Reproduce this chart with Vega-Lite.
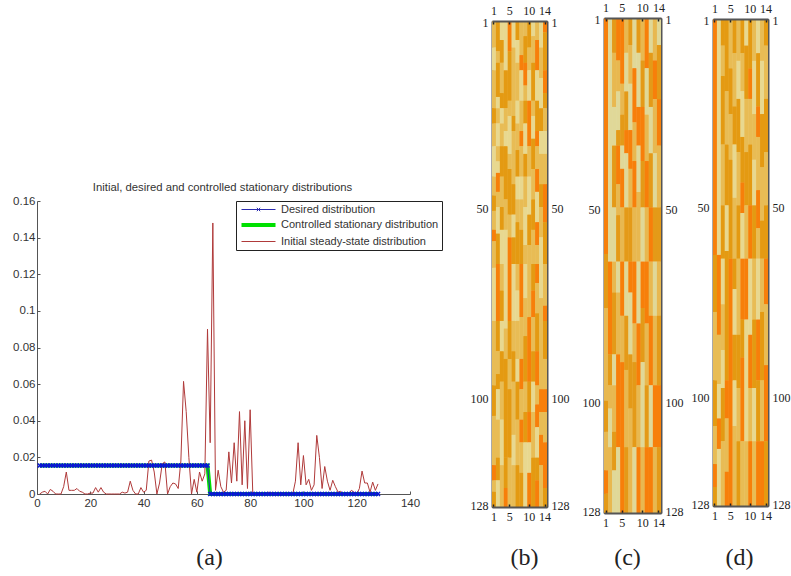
{"$schema":"https://vega.github.io/schema/vega-lite/v6.json","padding":{"left":12,"top":0,"right":0,"bottom":0},"background":"white","spacing":0,
"resolve":{"scale":{"color":"independent"},"legend":{"color":"independent"}},
"config":{"view":{"stroke":"#555","strokeWidth":1},"axis":{"grid":false,"labelFlush":false,"labelFont":"Liberation Serif","labelFontSize":12,"labelColor":"#222","labelAngle":0,"labelOverlap":false,"domainColor":"#555","domainWidth":2,"tickColor":"#222","tickWidth":1.5,"tickSize":-3,"labelPadding":7,"titleFont":"Liberation Serif","titleFontSize":24,"titleFontWeight":"normal","titleColor":"#222","titleBaseline":"alphabetic","titleAlign":"center"}},
"datasets":{
"line":[{"i":1,"d":0.0156,"c":0.0156,"r":0},{"i":2,"d":0.0156,"c":0.0156,"r":0.001},{"i":3,"d":0.0156,"c":0.0156,"r":0.0015},{"i":4,"d":0.0156,"c":0.0156,"r":0},{"i":5,"d":0.0156,"c":0.0156,"r":0.0025},{"i":6,"d":0.0156,"c":0.0156,"r":0.0015},{"i":7,"d":0.0156,"c":0.0156,"r":0},{"i":8,"d":0.0156,"c":0.0156,"r":0},{"i":9,"d":0.0156,"c":0.0156,"r":0},{"i":10,"d":0.0156,"c":0.0156,"r":0.004},{"i":11,"d":0.0156,"c":0.0156,"r":0.012},{"i":12,"d":0.0156,"c":0.0156,"r":0.002},{"i":13,"d":0.0156,"c":0.0156,"r":0.002},{"i":14,"d":0.0156,"c":0.0156,"r":0.002},{"i":15,"d":0.0156,"c":0.0156,"r":0.003},{"i":16,"d":0.0156,"c":0.0156,"r":0.0015},{"i":17,"d":0.0156,"c":0.0156,"r":0.001},{"i":18,"d":0.0156,"c":0.0156,"r":0},{"i":19,"d":0.0156,"c":0.0156,"r":0},{"i":20,"d":0.0156,"c":0.0156,"r":0.0005},{"i":21,"d":0.0156,"c":0.0156,"r":0.0005},{"i":22,"d":0.0156,"c":0.0156,"r":0.0035},{"i":23,"d":0.0156,"c":0.0156,"r":0.001},{"i":24,"d":0.0156,"c":0.0156,"r":0.0035},{"i":25,"d":0.0156,"c":0.0156,"r":0.001},{"i":26,"d":0.0156,"c":0.0156,"r":0},{"i":27,"d":0.0156,"c":0.0156,"r":0},{"i":28,"d":0.0156,"c":0.0156,"r":0},{"i":29,"d":0.0156,"c":0.0156,"r":0},{"i":30,"d":0.0156,"c":0.0156,"r":0},{"i":31,"d":0.0156,"c":0.0156,"r":0},{"i":32,"d":0.0156,"c":0.0156,"r":0.001},{"i":33,"d":0.0156,"c":0.0156,"r":0.0005},{"i":34,"d":0.0156,"c":0.0156,"r":0.001},{"i":35,"d":0.0156,"c":0.0156,"r":0.007},{"i":36,"d":0.0156,"c":0.0156,"r":0.002},{"i":37,"d":0.0156,"c":0.0156,"r":0},{"i":38,"d":0.0156,"c":0.0156,"r":0},{"i":39,"d":0.0156,"c":0.0156,"r":0.0035},{"i":40,"d":0.0156,"c":0.0156,"r":0.001},{"i":41,"d":0.0156,"c":0.0156,"r":0.002},{"i":42,"d":0.0156,"c":0.0156,"r":0.018},{"i":43,"d":0.0156,"c":0.0156,"r":0.0185},{"i":44,"d":0.0156,"c":0.0156,"r":0.012},{"i":45,"d":0.0156,"c":0.0156,"r":0},{"i":46,"d":0.0156,"c":0.0156,"r":0.006},{"i":47,"d":0.0156,"c":0.0156,"r":0.0165},{"i":48,"d":0.0156,"c":0.0156,"r":0.0175},{"i":49,"d":0.0156,"c":0.0156,"r":0},{"i":50,"d":0.0156,"c":0.0156,"r":0.004},{"i":51,"d":0.0156,"c":0.0156,"r":0.006},{"i":52,"d":0.0156,"c":0.0156,"r":0.0055},{"i":53,"d":0.0156,"c":0.0156,"r":0.003},{"i":54,"d":0.0156,"c":0.0156,"r":0.018},{"i":55,"d":0.0156,"c":0.0156,"r":0.0615},{"i":56,"d":0.0156,"c":0.0156,"r":0.045},{"i":57,"d":0.0156,"c":0.0156,"r":0.02},{"i":58,"d":0.0156,"c":0.0156,"r":0},{"i":59,"d":0.0156,"c":0.0156,"r":0.008},{"i":60,"d":0.0156,"c":0.0156,"r":0.001},{"i":61,"d":0.0156,"c":0.0156,"r":0.012},{"i":62,"d":0.0156,"c":0.0156,"r":0.007},{"i":63,"d":0.0156,"c":0.0156,"r":0.011},{"i":64,"d":0.0156,"c":0.0156,"r":0.09},{"i":65,"d":0,"c":0,"r":0.028},{"i":66,"d":0,"c":0,"r":0.148},{"i":67,"d":0,"c":0,"r":0.002},{"i":68,"d":0,"c":0,"r":0.013},{"i":69,"d":0,"c":0,"r":0.004},{"i":70,"d":0,"c":0,"r":0.001},{"i":71,"d":0,"c":0,"r":0.002},{"i":72,"d":0,"c":0,"r":0.023},{"i":73,"d":0,"c":0,"r":0.006},{"i":74,"d":0,"c":0,"r":0.028},{"i":75,"d":0,"c":0,"r":0.007},{"i":76,"d":0,"c":0,"r":0.045},{"i":77,"d":0,"c":0,"r":0.005},{"i":78,"d":0,"c":0,"r":0.04},{"i":79,"d":0,"c":0,"r":0.003},{"i":80,"d":0,"c":0,"r":0.046},{"i":81,"d":0,"c":0,"r":0},{"i":82,"d":0,"c":0,"r":0},{"i":83,"d":0,"c":0,"r":0},{"i":84,"d":0,"c":0,"r":0},{"i":85,"d":0,"c":0,"r":0},{"i":86,"d":0,"c":0,"r":0},{"i":87,"d":0,"c":0,"r":0.001},{"i":88,"d":0,"c":0,"r":0.0005},{"i":89,"d":0,"c":0,"r":0},{"i":90,"d":0,"c":0,"r":0},{"i":91,"d":0,"c":0,"r":0},{"i":92,"d":0,"c":0,"r":0},{"i":93,"d":0,"c":0,"r":0},{"i":94,"d":0,"c":0,"r":0},{"i":95,"d":0,"c":0,"r":0},{"i":96,"d":0,"c":0,"r":0},{"i":97,"d":0,"c":0,"r":0.007},{"i":98,"d":0,"c":0,"r":0.028},{"i":99,"d":0,"c":0,"r":0.005},{"i":100,"d":0,"c":0,"r":0.021},{"i":101,"d":0,"c":0,"r":0.005},{"i":102,"d":0,"c":0,"r":0.008},{"i":103,"d":0,"c":0,"r":0.002},{"i":104,"d":0,"c":0,"r":0.005},{"i":105,"d":0,"c":0,"r":0.032},{"i":106,"d":0,"c":0,"r":0.02},{"i":107,"d":0,"c":0,"r":0.003},{"i":108,"d":0,"c":0,"r":0.015},{"i":109,"d":0,"c":0,"r":0.007},{"i":110,"d":0,"c":0,"r":0.002},{"i":111,"d":0,"c":0,"r":0.0075},{"i":112,"d":0,"c":0,"r":0.004},{"i":113,"d":0,"c":0,"r":0.001},{"i":114,"d":0,"c":0,"r":0.0015},{"i":115,"d":0,"c":0,"r":0},{"i":116,"d":0,"c":0,"r":0},{"i":117,"d":0,"c":0,"r":0},{"i":118,"d":0,"c":0,"r":0.002},{"i":119,"d":0,"c":0,"r":0.001},{"i":120,"d":0,"c":0,"r":0},{"i":121,"d":0,"c":0,"r":0.003},{"i":122,"d":0,"c":0,"r":0.0125},{"i":123,"d":0,"c":0,"r":0.006},{"i":124,"d":0,"c":0,"r":0.006},{"i":125,"d":0,"c":0,"r":0.001},{"i":126,"d":0,"c":0,"r":0.0065},{"i":127,"d":0,"c":0,"r":0.002},{"i":128,"d":0,"c":0,"r":0.0055}],
"b":[{"c":1,"s":1,"e":8,"v":1},{"c":1,"s":8,"e":14,"v":0},{"c":1,"s":14,"e":24,"v":1},{"c":1,"s":24,"e":28,"v":2},{"c":1,"s":28,"e":34,"v":1},{"c":1,"s":34,"e":42,"v":0},{"c":1,"s":42,"e":47,"v":1},{"c":1,"s":47,"e":51,"v":2},{"c":1,"s":51,"e":56,"v":1},{"c":1,"s":56,"e":59,"v":3},{"c":1,"s":59,"e":66,"v":1},{"c":1,"s":66,"e":80,"v":0},{"c":1,"s":80,"e":97,"v":1},{"c":1,"s":97,"e":105,"v":2},{"c":1,"s":105,"e":118,"v":1},{"c":1,"s":118,"e":122,"v":3},{"c":1,"s":122,"e":125,"v":1},{"c":1,"s":125,"e":129,"v":2},
{"c":2,"s":1,"e":9,"v":2},{"c":2,"s":9,"e":12,"v":1},{"c":2,"s":12,"e":21,"v":2},{"c":2,"s":21,"e":24,"v":0},{"c":2,"s":24,"e":28,"v":1},{"c":2,"s":28,"e":34,"v":0},{"c":2,"s":34,"e":38,"v":1},{"c":2,"s":38,"e":41,"v":0},{"c":2,"s":41,"e":46,"v":3},{"c":2,"s":46,"e":50,"v":1},{"c":2,"s":50,"e":57,"v":0},{"c":2,"s":57,"e":65,"v":2},{"c":2,"s":65,"e":80,"v":3},{"c":2,"s":80,"e":88,"v":2},{"c":2,"s":88,"e":94,"v":1},{"c":2,"s":94,"e":98,"v":2},{"c":2,"s":98,"e":106,"v":0},{"c":2,"s":106,"e":116,"v":1},{"c":2,"s":116,"e":122,"v":2},{"c":2,"s":122,"e":129,"v":0},
{"c":3,"s":1,"e":6,"v":0},{"c":3,"s":6,"e":12,"v":2},{"c":3,"s":12,"e":20,"v":1},{"c":3,"s":20,"e":24,"v":2},{"c":3,"s":24,"e":28,"v":0},{"c":3,"s":28,"e":34,"v":1},{"c":3,"s":34,"e":42,"v":2},{"c":3,"s":42,"e":50,"v":1},{"c":3,"s":50,"e":56,"v":2},{"c":3,"s":56,"e":65,"v":0},{"c":3,"s":65,"e":72,"v":1},{"c":3,"s":72,"e":80,"v":2},{"c":3,"s":80,"e":88,"v":0},{"c":3,"s":88,"e":96,"v":2},{"c":3,"s":96,"e":106,"v":1},{"c":3,"s":106,"e":118,"v":0},{"c":3,"s":118,"e":129,"v":1},
{"c":4,"s":1,"e":14,"v":0},{"c":4,"s":14,"e":24,"v":2},{"c":4,"s":24,"e":30,"v":1},{"c":4,"s":30,"e":34,"v":0},{"c":4,"s":34,"e":48,"v":2},{"c":4,"s":48,"e":56,"v":1},{"c":4,"s":56,"e":82,"v":0},{"c":4,"s":82,"e":90,"v":1},{"c":4,"s":90,"e":116,"v":2},{"c":4,"s":116,"e":124,"v":2},{"c":4,"s":124,"e":129,"v":3},
{"c":5,"s":1,"e":9,"v":3},{"c":5,"s":9,"e":22,"v":2},{"c":5,"s":22,"e":26,"v":1},{"c":5,"s":26,"e":36,"v":0},{"c":5,"s":36,"e":40,"v":1},{"c":5,"s":40,"e":52,"v":2},{"c":5,"s":52,"e":58,"v":1},{"c":5,"s":58,"e":80,"v":3},{"c":5,"s":80,"e":90,"v":2},{"c":5,"s":90,"e":98,"v":1},{"c":5,"s":98,"e":116,"v":2},{"c":5,"s":116,"e":129,"v":1},
{"c":6,"s":1,"e":8,"v":0},{"c":6,"s":8,"e":26,"v":1},{"c":6,"s":26,"e":30,"v":2},{"c":6,"s":30,"e":44,"v":1},{"c":6,"s":44,"e":52,"v":2},{"c":6,"s":52,"e":58,"v":0},{"c":6,"s":58,"e":65,"v":2},{"c":6,"s":65,"e":80,"v":0},{"c":6,"s":80,"e":88,"v":1},{"c":6,"s":88,"e":96,"v":2},{"c":6,"s":96,"e":110,"v":1},{"c":6,"s":110,"e":118,"v":0},{"c":6,"s":118,"e":129,"v":1},
{"c":7,"s":1,"e":6,"v":2},{"c":7,"s":6,"e":12,"v":0},{"c":7,"s":12,"e":22,"v":1},{"c":7,"s":22,"e":28,"v":0},{"c":7,"s":28,"e":35,"v":1},{"c":7,"s":35,"e":42,"v":2},{"c":7,"s":42,"e":48,"v":0},{"c":7,"s":48,"e":54,"v":1},{"c":7,"s":54,"e":65,"v":2},{"c":7,"s":65,"e":72,"v":1},{"c":7,"s":72,"e":80,"v":0},{"c":7,"s":80,"e":90,"v":1},{"c":7,"s":90,"e":96,"v":0},{"c":7,"s":96,"e":106,"v":2},{"c":7,"s":106,"e":118,"v":1},{"c":7,"s":118,"e":129,"v":2},
{"c":8,"s":1,"e":10,"v":1},{"c":8,"s":10,"e":14,"v":3},{"c":8,"s":14,"e":22,"v":0},{"c":8,"s":22,"e":30,"v":1},{"c":8,"s":30,"e":34,"v":3},{"c":8,"s":34,"e":42,"v":1},{"c":8,"s":42,"e":48,"v":0},{"c":8,"s":48,"e":56,"v":1},{"c":8,"s":56,"e":65,"v":2},{"c":8,"s":65,"e":79,"v":3},{"c":8,"s":79,"e":90,"v":1},{"c":8,"s":90,"e":98,"v":3},{"c":8,"s":98,"e":106,"v":1},{"c":8,"s":106,"e":112,"v":3},{"c":8,"s":112,"e":120,"v":1},{"c":8,"s":120,"e":129,"v":2},
{"c":9,"s":1,"e":5,"v":1},{"c":9,"s":5,"e":12,"v":2},{"c":9,"s":12,"e":18,"v":3},{"c":9,"s":18,"e":22,"v":1},{"c":9,"s":22,"e":28,"v":2},{"c":9,"s":28,"e":36,"v":0},{"c":9,"s":36,"e":42,"v":2},{"c":9,"s":42,"e":50,"v":1},{"c":9,"s":50,"e":60,"v":0},{"c":9,"s":60,"e":65,"v":1},{"c":9,"s":65,"e":74,"v":0},{"c":9,"s":74,"e":84,"v":1},{"c":9,"s":84,"e":96,"v":2},{"c":9,"s":96,"e":104,"v":1},{"c":9,"s":104,"e":112,"v":2},{"c":9,"s":112,"e":129,"v":0},
{"c":10,"s":1,"e":8,"v":2},{"c":10,"s":8,"e":14,"v":1},{"c":10,"s":14,"e":22,"v":0},{"c":10,"s":22,"e":34,"v":3},{"c":10,"s":34,"e":42,"v":1},{"c":10,"s":42,"e":52,"v":0},{"c":10,"s":52,"e":60,"v":2},{"c":10,"s":60,"e":79,"v":1},{"c":10,"s":79,"e":96,"v":3},{"c":10,"s":96,"e":104,"v":2},{"c":10,"s":104,"e":112,"v":3},{"c":10,"s":112,"e":120,"v":0},{"c":10,"s":120,"e":129,"v":3},
{"c":11,"s":1,"e":5,"v":0},{"c":11,"s":5,"e":12,"v":1},{"c":11,"s":12,"e":22,"v":2},{"c":11,"s":22,"e":26,"v":1},{"c":11,"s":26,"e":32,"v":0},{"c":11,"s":32,"e":40,"v":2},{"c":11,"s":40,"e":48,"v":1},{"c":11,"s":48,"e":56,"v":2},{"c":11,"s":56,"e":65,"v":1},{"c":11,"s":65,"e":72,"v":2},{"c":11,"s":72,"e":79,"v":3},{"c":11,"s":79,"e":88,"v":1},{"c":11,"s":88,"e":96,"v":2},{"c":11,"s":96,"e":104,"v":0},{"c":11,"s":104,"e":116,"v":1},{"c":11,"s":116,"e":129,"v":2},
{"c":12,"s":1,"e":6,"v":1},{"c":12,"s":6,"e":14,"v":3},{"c":12,"s":14,"e":22,"v":0},{"c":12,"s":22,"e":30,"v":2},{"c":12,"s":30,"e":34,"v":3},{"c":12,"s":34,"e":40,"v":1},{"c":12,"s":40,"e":46,"v":3},{"c":12,"s":46,"e":54,"v":0},{"c":12,"s":54,"e":60,"v":3},{"c":12,"s":60,"e":65,"v":1},{"c":12,"s":65,"e":70,"v":3},{"c":12,"s":70,"e":78,"v":1},{"c":12,"s":78,"e":88,"v":2},{"c":12,"s":88,"e":97,"v":3},{"c":12,"s":97,"e":102,"v":1},{"c":12,"s":102,"e":108,"v":3},{"c":12,"s":108,"e":116,"v":0},{"c":12,"s":116,"e":122,"v":2},{"c":12,"s":122,"e":129,"v":3},
{"c":13,"s":1,"e":8,"v":0},{"c":13,"s":8,"e":16,"v":1},{"c":13,"s":16,"e":24,"v":0},{"c":13,"s":24,"e":30,"v":2},{"c":13,"s":30,"e":36,"v":0},{"c":13,"s":36,"e":44,"v":1},{"c":13,"s":44,"e":50,"v":2},{"c":13,"s":50,"e":58,"v":1},{"c":13,"s":58,"e":74,"v":0},{"c":13,"s":74,"e":98,"v":1},{"c":13,"s":98,"e":104,"v":3},{"c":13,"s":104,"e":110,"v":1},{"c":13,"s":110,"e":118,"v":3},{"c":13,"s":118,"e":129,"v":1},
{"c":14,"s":1,"e":4,"v":3},{"c":14,"s":4,"e":14,"v":2},{"c":14,"s":14,"e":20,"v":3},{"c":14,"s":20,"e":24,"v":2},{"c":14,"s":24,"e":30,"v":1},{"c":14,"s":30,"e":36,"v":0},{"c":14,"s":36,"e":44,"v":1},{"c":14,"s":44,"e":54,"v":3},{"c":14,"s":54,"e":65,"v":2},{"c":14,"s":65,"e":76,"v":1},{"c":14,"s":76,"e":80,"v":3},{"c":14,"s":80,"e":90,"v":2},{"c":14,"s":90,"e":98,"v":1},{"c":14,"s":98,"e":104,"v":3},{"c":14,"s":104,"e":112,"v":1},{"c":14,"s":112,"e":124,"v":3},{"c":14,"s":124,"e":129,"v":2}],
"cc":[{"c":1,"s":1,"e":62,"v":3},{"c":1,"s":62,"e":76,"v":2},{"c":1,"s":76,"e":100,"v":1},{"c":1,"s":100,"e":108,"v":2},{"c":1,"s":108,"e":118,"v":1},{"c":1,"s":118,"e":124,"v":3},{"c":1,"s":124,"e":129,"v":2},
{"c":2,"s":1,"e":64,"v":0},{"c":2,"s":64,"e":88,"v":3},{"c":2,"s":88,"e":96,"v":2},{"c":2,"s":96,"e":102,"v":1},{"c":2,"s":102,"e":112,"v":0},{"c":2,"s":112,"e":129,"v":1},
{"c":3,"s":1,"e":10,"v":2},{"c":3,"s":10,"e":24,"v":1},{"c":3,"s":24,"e":34,"v":0},{"c":3,"s":34,"e":50,"v":2},{"c":3,"s":50,"e":64,"v":0},{"c":3,"s":64,"e":72,"v":1},{"c":3,"s":72,"e":88,"v":2},{"c":3,"s":88,"e":96,"v":0},{"c":3,"s":96,"e":108,"v":1},{"c":3,"s":108,"e":118,"v":2},{"c":3,"s":118,"e":129,"v":0},
{"c":4,"s":1,"e":12,"v":3},{"c":4,"s":12,"e":20,"v":1},{"c":4,"s":20,"e":30,"v":0},{"c":4,"s":30,"e":34,"v":2},{"c":4,"s":34,"e":44,"v":3},{"c":4,"s":44,"e":52,"v":1},{"c":4,"s":52,"e":64,"v":2},{"c":4,"s":64,"e":72,"v":0},{"c":4,"s":72,"e":88,"v":1},{"c":4,"s":88,"e":112,"v":3},{"c":4,"s":112,"e":129,"v":0},
{"c":5,"s":1,"e":18,"v":3},{"c":5,"s":18,"e":26,"v":1},{"c":5,"s":26,"e":34,"v":2},{"c":5,"s":34,"e":40,"v":0},{"c":5,"s":40,"e":50,"v":3},{"c":5,"s":50,"e":64,"v":1},{"c":5,"s":64,"e":78,"v":3},{"c":5,"s":78,"e":90,"v":1},{"c":5,"s":90,"e":129,"v":3},
{"c":6,"s":1,"e":10,"v":1},{"c":6,"s":10,"e":20,"v":0},{"c":6,"s":20,"e":30,"v":2},{"c":6,"s":30,"e":36,"v":3},{"c":6,"s":36,"e":50,"v":0},{"c":6,"s":50,"e":64,"v":2},{"c":6,"s":64,"e":78,"v":0},{"c":6,"s":78,"e":92,"v":2},{"c":6,"s":92,"e":112,"v":1},{"c":6,"s":112,"e":129,"v":2},
{"c":7,"s":1,"e":8,"v":2},{"c":7,"s":8,"e":18,"v":1},{"c":7,"s":18,"e":30,"v":0},{"c":7,"s":30,"e":40,"v":3},{"c":7,"s":40,"e":50,"v":1},{"c":7,"s":50,"e":64,"v":2},{"c":7,"s":64,"e":72,"v":3},{"c":7,"s":72,"e":88,"v":0},{"c":7,"s":88,"e":102,"v":2},{"c":7,"s":102,"e":129,"v":1},
{"c":8,"s":1,"e":14,"v":0},{"c":8,"s":14,"e":28,"v":3},{"c":8,"s":28,"e":38,"v":1},{"c":8,"s":38,"e":50,"v":3},{"c":8,"s":50,"e":64,"v":1},{"c":8,"s":64,"e":80,"v":3},{"c":8,"s":80,"e":90,"v":1},{"c":8,"s":90,"e":112,"v":2},{"c":8,"s":112,"e":129,"v":0},
{"c":9,"s":1,"e":10,"v":2},{"c":9,"s":10,"e":24,"v":0},{"c":9,"s":24,"e":34,"v":3},{"c":9,"s":34,"e":46,"v":0},{"c":9,"s":46,"e":64,"v":1},{"c":9,"s":64,"e":80,"v":0},{"c":9,"s":80,"e":96,"v":3},{"c":9,"s":96,"e":112,"v":1},{"c":9,"s":112,"e":129,"v":3},
{"c":10,"s":1,"e":12,"v":1},{"c":10,"s":12,"e":24,"v":2},{"c":10,"s":24,"e":38,"v":3},{"c":10,"s":38,"e":50,"v":2},{"c":10,"s":50,"e":64,"v":0},{"c":10,"s":64,"e":76,"v":3},{"c":10,"s":76,"e":90,"v":2},{"c":10,"s":90,"e":112,"v":0},{"c":10,"s":112,"e":129,"v":1},
{"c":11,"s":1,"e":14,"v":3},{"c":11,"s":14,"e":26,"v":0},{"c":11,"s":26,"e":38,"v":1},{"c":11,"s":38,"e":50,"v":3},{"c":11,"s":50,"e":64,"v":1},{"c":11,"s":64,"e":80,"v":3},{"c":11,"s":80,"e":96,"v":1},{"c":11,"s":96,"e":112,"v":2},{"c":11,"s":112,"e":129,"v":3},
{"c":12,"s":1,"e":10,"v":0},{"c":12,"s":10,"e":24,"v":2},{"c":12,"s":24,"e":36,"v":0},{"c":12,"s":36,"e":50,"v":2},{"c":12,"s":50,"e":64,"v":3},{"c":12,"s":64,"e":78,"v":1},{"c":12,"s":78,"e":96,"v":3},{"c":12,"s":96,"e":112,"v":0},{"c":12,"s":112,"e":129,"v":3},
{"c":13,"s":1,"e":12,"v":1},{"c":13,"s":12,"e":22,"v":3},{"c":13,"s":22,"e":36,"v":1},{"c":13,"s":36,"e":50,"v":0},{"c":13,"s":50,"e":64,"v":2},{"c":13,"s":64,"e":78,"v":0},{"c":13,"s":78,"e":96,"v":1},{"c":13,"s":96,"e":112,"v":3},{"c":13,"s":112,"e":129,"v":1},
{"c":14,"s":1,"e":8,"v":0},{"c":14,"s":8,"e":22,"v":2},{"c":14,"s":22,"e":34,"v":3},{"c":14,"s":34,"e":50,"v":1},{"c":14,"s":50,"e":64,"v":2},{"c":14,"s":64,"e":78,"v":1},{"c":14,"s":78,"e":96,"v":2},{"c":14,"s":96,"e":112,"v":3},{"c":14,"s":112,"e":129,"v":2}],
"dd":[{"c":1,"s":1,"e":63,"v":3},{"c":1,"s":63,"e":78,"v":2},{"c":1,"s":78,"e":96,"v":1},{"c":1,"s":96,"e":108,"v":2},{"c":1,"s":108,"e":118,"v":1},{"c":1,"s":118,"e":124,"v":3},{"c":1,"s":124,"e":129,"v":2},
{"c":2,"s":1,"e":63,"v":0},{"c":2,"s":63,"e":84,"v":3},{"c":2,"s":84,"e":97,"v":1},{"c":2,"s":97,"e":106,"v":0},{"c":2,"s":106,"e":114,"v":3},{"c":2,"s":114,"e":129,"v":0},
{"c":3,"s":1,"e":8,"v":2},{"c":3,"s":8,"e":16,"v":1},{"c":3,"s":16,"e":34,"v":2},{"c":3,"s":34,"e":50,"v":1},{"c":3,"s":50,"e":64,"v":2},{"c":3,"s":64,"e":76,"v":0},{"c":3,"s":76,"e":88,"v":1},{"c":3,"s":88,"e":98,"v":0},{"c":3,"s":98,"e":112,"v":2},{"c":3,"s":112,"e":129,"v":1},
{"c":4,"s":1,"e":20,"v":2},{"c":4,"s":20,"e":34,"v":1},{"c":4,"s":34,"e":50,"v":2},{"c":4,"s":50,"e":62,"v":0},{"c":4,"s":62,"e":96,"v":2},{"c":4,"s":96,"e":106,"v":3},{"c":4,"s":106,"e":120,"v":1},{"c":4,"s":120,"e":129,"v":3},
{"c":5,"s":1,"e":14,"v":1},{"c":5,"s":14,"e":26,"v":2},{"c":5,"s":26,"e":38,"v":1},{"c":5,"s":38,"e":64,"v":2},{"c":5,"s":64,"e":129,"v":3},
{"c":6,"s":1,"e":10,"v":2},{"c":6,"s":10,"e":24,"v":1},{"c":6,"s":24,"e":34,"v":2},{"c":6,"s":34,"e":48,"v":0},{"c":6,"s":48,"e":64,"v":1},{"c":6,"s":64,"e":72,"v":2},{"c":6,"s":72,"e":84,"v":0},{"c":6,"s":84,"e":96,"v":2},{"c":6,"s":96,"e":108,"v":0},{"c":6,"s":108,"e":129,"v":1},
{"c":7,"s":1,"e":12,"v":1},{"c":7,"s":12,"e":22,"v":0},{"c":7,"s":22,"e":36,"v":2},{"c":7,"s":36,"e":50,"v":1},{"c":7,"s":50,"e":64,"v":2},{"c":7,"s":64,"e":84,"v":1},{"c":7,"s":84,"e":98,"v":2},{"c":7,"s":98,"e":112,"v":1},{"c":7,"s":112,"e":129,"v":2},
{"c":8,"s":1,"e":10,"v":2},{"c":8,"s":10,"e":20,"v":1},{"c":8,"s":20,"e":32,"v":0},{"c":8,"s":32,"e":44,"v":2},{"c":8,"s":44,"e":52,"v":3},{"c":8,"s":52,"e":64,"v":0},{"c":8,"s":64,"e":80,"v":3},{"c":8,"s":80,"e":90,"v":2},{"c":8,"s":90,"e":112,"v":3},{"c":8,"s":112,"e":129,"v":1},
{"c":9,"s":1,"e":8,"v":0},{"c":9,"s":8,"e":22,"v":2},{"c":9,"s":22,"e":36,"v":1},{"c":9,"s":36,"e":50,"v":2},{"c":9,"s":50,"e":64,"v":1},{"c":9,"s":64,"e":80,"v":3},{"c":9,"s":80,"e":112,"v":0},{"c":9,"s":112,"e":129,"v":1},
{"c":10,"s":1,"e":14,"v":2},{"c":10,"s":14,"e":22,"v":3},{"c":10,"s":22,"e":34,"v":1},{"c":10,"s":34,"e":50,"v":2},{"c":10,"s":50,"e":64,"v":3},{"c":10,"s":64,"e":84,"v":0},{"c":10,"s":84,"e":98,"v":3},{"c":10,"s":98,"e":112,"v":1},{"c":10,"s":112,"e":129,"v":3},
{"c":11,"s":1,"e":12,"v":1},{"c":11,"s":12,"e":26,"v":0},{"c":11,"s":26,"e":38,"v":1},{"c":11,"s":38,"e":50,"v":0},{"c":11,"s":50,"e":64,"v":2},{"c":11,"s":64,"e":80,"v":1},{"c":11,"s":80,"e":98,"v":2},{"c":11,"s":98,"e":112,"v":0},{"c":11,"s":112,"e":129,"v":1},
{"c":12,"s":1,"e":10,"v":0},{"c":12,"s":10,"e":24,"v":2},{"c":12,"s":24,"e":32,"v":3},{"c":12,"s":32,"e":46,"v":1},{"c":12,"s":46,"e":56,"v":3},{"c":12,"s":56,"e":64,"v":1},{"c":12,"s":64,"e":80,"v":0},{"c":12,"s":80,"e":96,"v":3},{"c":12,"s":96,"e":112,"v":2},{"c":12,"s":112,"e":129,"v":3},
{"c":13,"s":1,"e":12,"v":1},{"c":13,"s":12,"e":26,"v":0},{"c":13,"s":26,"e":40,"v":2},{"c":13,"s":40,"e":54,"v":1},{"c":13,"s":54,"e":64,"v":2},{"c":13,"s":64,"e":78,"v":1},{"c":13,"s":78,"e":96,"v":2},{"c":13,"s":96,"e":112,"v":1},{"c":13,"s":112,"e":129,"v":3},
{"c":14,"s":1,"e":8,"v":2},{"c":14,"s":8,"e":22,"v":1},{"c":14,"s":22,"e":36,"v":2},{"c":14,"s":36,"e":50,"v":1},{"c":14,"s":50,"e":64,"v":2},{"c":14,"s":64,"e":76,"v":3},{"c":14,"s":76,"e":92,"v":1},{"c":14,"s":92,"e":112,"v":3},{"c":14,"s":112,"e":129,"v":2}]},
"hconcat":[
{"vconcat":[
{"width":373,"height":200,"view":{"stroke":null},"data":{"values":[{}]},"mark":{"type":"point","opacity":0},"encoding":{}},
{"width":373,"height":293,"data":{"name":"line"},"view":{"stroke":null},
"title":{"text":"Initial, desired and controlled stationary distributions","font":"Liberation Sans","fontSize":11.3,"fontWeight":"normal","color":"#333","offset":2,"dx":-1},
"encoding":{"x":{"field":"i","type":"quantitative","scale":{"domain":[0,140],"nice":false},"axis":{"values":[0,20,40,60,80,100,120,140],"labelFont":"Liberation Sans","labelFontSize":11.5,"labelColor":"#333","labelPadding":6,"domainWidth":1,"tickWidth":1,"tickColor":"#555","title":"(a)","titleX":172,"titleY":70}}},
"layer":[
{"mark":{"type":"line","strokeWidth":4},"encoding":{"y":{"field":"c","type":"quantitative","scale":{"domain":[0,0.16],"nice":false},"axis":{"values":[0,0.02,0.04,0.06,0.08,0.1,0.12,0.14,0.16],"format":"~g","labelOverlap":false,"labelFont":"Liberation Sans","labelFontSize":11.5,"labelColor":"#333","labelPadding":5,"domainWidth":1,"tickWidth":1,"tickColor":"#555","title":null}},
"color":{"datum":"Controlled stationary distribution","scale":{"domain":["Desired distribution","Controlled stationary distribution","Initial steady-state distribution"],"range":["#2A2AB0","#00E000","#B03A3A"]},"legend":{"title":null,"orient":"none","legendX":199,"legendY":200,"strokeColor":"#222","fillColor":"#fff","padding":3,"labelFont":"Liberation Sans","labelFontSize":11,"labelColor":"#333","symbolType":"stroke","symbolSize":1156,"symbolOffset":14,"rowPadding":1.5,"columnPadding":2,"labelOffset":17,"encode":{"symbols":{"update":{"shape":{"signal":"datum.value==='Desired distribution'?'M-1,0H1M-.1,-.1L.1,.1M-.1,.1L.1,-.1':'M-1,0H1'"},"strokeWidth":{"signal":"datum.value==='Controlled stationary distribution'?4:1"}}}}}}}},
{"mark":{"type":"line","strokeWidth":1},"encoding":{"y":{"field":"r","type":"quantitative","axis":{"values":[0,0.02,0.04,0.06,0.08,0.1,0.12,0.14,0.16],"format":"~g","labelOverlap":false,"labelFont":"Liberation Sans","labelFontSize":11.5,"labelColor":"#333","labelPadding":5,"domainWidth":1,"tickWidth":1,"tickColor":"#555","title":null}},"color":{"datum":"Initial steady-state distribution"}}},
{"mark":{"type":"line","strokeWidth":1},"encoding":{"y":{"field":"d","type":"quantitative","axis":{"values":[0,0.02,0.04,0.06,0.08,0.1,0.12,0.14,0.16],"format":"~g","labelOverlap":false,"labelFont":"Liberation Sans","labelFontSize":11.5,"labelColor":"#333","labelPadding":5,"domainWidth":1,"tickWidth":1,"tickColor":"#555","title":null}},"color":{"datum":"Desired distribution"}}},
{"mark":{"type":"point","shape":"M-1,-1L1,1M-1,1L1,-1","size":16,"filled":false,"strokeWidth":1.5,"color":"#0A14D8","opacity":1},"encoding":{"y":{"field":"d","type":"quantitative","axis":{"values":[0,0.02,0.04,0.06,0.08,0.1,0.12,0.14,0.16],"format":"~g","labelOverlap":false,"labelFont":"Liberation Sans","labelFontSize":11.5,"labelColor":"#333","labelPadding":5,"domainWidth":1,"tickWidth":1,"tickColor":"#555","title":null}}}}
]}],"spacing":0,"bounds":"flush"},
{"width":26,"height":20,"view":{"stroke":null},"data":{"values":[{}]},"mark":{"type":"point","opacity":0},"encoding":{}},
{"vconcat":[
{"width":55,"height":20,"view":{"stroke":null},"data":{"values":[{}]},"mark":{"type":"point","opacity":0},"encoding":{}},
{"width":55,"height":486,"data":{"name":"b"},"resolve":{"axis":{"x":"independent","y":"independent"}},
"layer":[
{"mark":{"type":"rect"},"encoding":{"x":{"field":"c","type":"ordinal","scale":{"paddingInner":0,"paddingOuter":0},"axis":{"orient":"bottom","values":[1,5,10,14],"title":"(b)","titleX":32,"titleY":57}},"y":{"field":"s","type":"quantitative","scale":{"domain":[1,129],"reverse":true,"nice":false},"axis":{"orient":"left","values":[1.5,50.5,100.5,128.5],"labelExpr":"floor(datum.value)","title":null}},"y2":{"field":"e"},"color":{"field":"v","type":"ordinal","legend":null,"scale":{"domain":[0,1,2,3],"range":["#E8D890","#E8BC55","#E49A12","#F77F0A"]}}}},
{"mark":{"type":"rect"},"encoding":{"x":{"field":"c","type":"ordinal","axis":{"orient":"top","values":[1,5,10,14],"title":null}},"y":{"field":"s","type":"quantitative","axis":{"orient":"right","values":[1.5,50.5,100.5,128.5],"labelExpr":"floor(datum.value)","title":null}},"y2":{"field":"e"},"color":{"field":"v","type":"ordinal"}}}
]}],"spacing":0,"bounds":"flush"},
{"width":11,"height":20,"view":{"stroke":null},"data":{"values":[{}]},"mark":{"type":"point","opacity":0},"encoding":{}},
{"vconcat":[
{"width":57,"height":17,"view":{"stroke":null},"data":{"values":[{}]},"mark":{"type":"point","opacity":0},"encoding":{}},
{"width":57,"height":495,"data":{"name":"cc"},"resolve":{"axis":{"x":"independent","y":"independent"}},
"layer":[
{"mark":{"type":"rect"},"encoding":{"x":{"field":"c","type":"ordinal","scale":{"paddingInner":0,"paddingOuter":0},"axis":{"orient":"bottom","values":[1,5,10,14],"title":"(c)","titleX":23,"titleY":51}},"y":{"field":"s","type":"quantitative","scale":{"domain":[1,129],"reverse":true,"nice":false},"axis":{"orient":"left","values":[1.5,50.5,100.5,128.5],"labelExpr":"floor(datum.value)","title":null}},"y2":{"field":"e"},"color":{"field":"v","type":"ordinal","legend":null,"scale":{"domain":[0,1,2,3],"range":["#E0D898","#E8B850","#E49A18","#F77F0A"]}}}},
{"mark":{"type":"rect"},"encoding":{"x":{"field":"c","type":"ordinal","axis":{"orient":"top","values":[1,5,10,14],"title":null}},"y":{"field":"s","type":"quantitative","axis":{"orient":"right","values":[1.5,50.5,100.5,128.5],"labelExpr":"floor(datum.value)","title":null}},"y2":{"field":"e"},"color":{"field":"v","type":"ordinal"}}}
]}],"spacing":0,"bounds":"flush"},
{"width":6,"height":20,"view":{"stroke":null},"data":{"values":[{}]},"mark":{"type":"point","opacity":0},"encoding":{}},
{"vconcat":[
{"width":55,"height":18,"view":{"stroke":null},"data":{"values":[{}]},"mark":{"type":"point","opacity":0},"encoding":{}},
{"width":55,"height":487,"data":{"name":"dd"},"resolve":{"axis":{"x":"independent","y":"independent"}},
"layer":[
{"mark":{"type":"rect"},"encoding":{"x":{"field":"c","type":"ordinal","scale":{"paddingInner":0,"paddingOuter":0},"axis":{"orient":"bottom","values":[1,5,10,14],"title":"(d)","titleX":26,"titleY":58}},"y":{"field":"s","type":"quantitative","scale":{"domain":[1,129],"reverse":true,"nice":false},"axis":{"orient":"left","values":[1.5,50.5,100.5,128.5],"labelExpr":"floor(datum.value)","title":null}},"y2":{"field":"e"},"color":{"field":"v","type":"ordinal","legend":null,"scale":{"domain":[0,1,2,3],"range":["#E8D890","#E8BC55","#E49A12","#F77F0A"]}}}},
{"mark":{"type":"rect"},"encoding":{"x":{"field":"c","type":"ordinal","axis":{"orient":"top","values":[1,5,10,14],"title":null}},"y":{"field":"s","type":"quantitative","axis":{"orient":"right","values":[1.5,50.5,100.5,128.5],"labelExpr":"floor(datum.value)","title":null}},"y2":{"field":"e"},"color":{"field":"v","type":"ordinal"}}}
]}],"spacing":0,"bounds":"flush"}
]}
